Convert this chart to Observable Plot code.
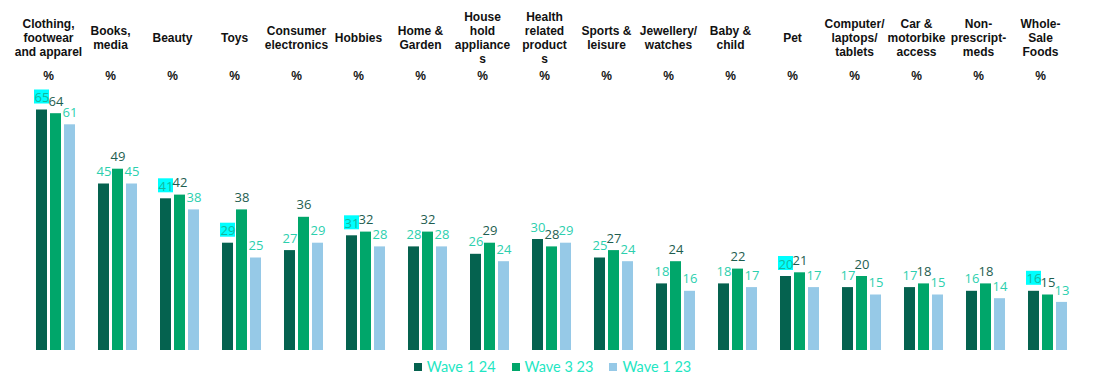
<!DOCTYPE html>
<html>
<head>
<meta charset="utf-8">
<script src="https://cdn.jsdelivr.net/npm/d3@7"></script>
<script src="https://cdn.jsdelivr.net/npm/@observablehq/plot@0.6"></script>
<style>
  html, body { margin: 0; padding: 0; background: #fff; }
  #chart { width: 1095px; height: 382px; position: relative; }
  #legend { display: flex; justify-content: center; margin-left: 26px; margin-top: -6px; }
  #legend span { margin-right: 16px !important; }
  #legend span > svg { margin-right: 5px !important; }
</style>
</head>
<body>
<div id="chart"></div>
<script>
const categories = [
  "Clothing,\nfootwear\nand apparel", "Books,\nmedia", "Beauty", "Toys", "Consumer\nelectronics",
  "Hobbies", "Home &\nGarden", "House\nhold\nappliance\ns", "Health\nrelated\nproduct\ns",
  "Sports &\nleisure", "Jewellery/\nwatches", "Baby &\nchild", "Pet", "Computer/\nlaptops/\ntablets",
  "Car &\nmotorbike\naccess", "Non-\nprescript-\nmeds", "Whole-\nSale\nFoods"
];
const seriesNames = ["Wave 1 24", "Wave 3 23", "Wave 1 23"];
const wave1_24 = [65, 45, 41, 29, 27, 31, 28, 26, 30, 25, 18, 18, 20, 17, 17, 16, 16];
const wave3_23 = [64, 49, 42, 38, 36, 32, 32, 29, 28, 27, 24, 22, 21, 20, 18, 18, 15];
const wave1_23 = [61, 45, 38, 25, 29, 28, 28, 24, 29, 24, 16, 17, 17, 15, 15, 14, 13];
// categories whose Wave 1 24 label is highlighted in the reference
const highlighted = [true, false, true, true, false, true, false, false, false, false, false, false, true, false, false, false, true];
const barColors = ["#05624f", "#00a66a", "#96c9e7"];
const labelColors = ["#2ccfae", "#1e5e50", "#2ccfae"];
const highlightFill = "#00ffff";
const highlightText = "#13b89e";

const seriesValues = [wave1_24, wave3_23, wave1_23];
const data = [];
categories.forEach((c, i) => {
  seriesNames.forEach((s, j) => {
    const hl = j === 0 && highlighted[i];
    data.push({category: c, series: s, value: seriesValues[j][i], hl, lc: hl ? highlightText : labelColors[j]});
  });
});

const plot = Plot.plot({
  width: 1095,
  height: 356,
  marginTop: 91,
  marginBottom: 6,
  marginLeft: 24,
  marginRight: 17,
  style: {background: "transparent", overflow: "visible"},
  fx: {domain: categories, paddingInner: 0, paddingOuter: 0, axis: null},
  x: {domain: seriesNames, paddingInner: 3 / 14, paddingOuter: 0.82, axis: null},
  y: {domain: [0, 70], axis: null},
  color: {domain: seriesNames, range: barColors},
  marks: [
    Plot.barY(data, {fx: "category", x: "series", y: "value", fill: "series"}),
    Plot.barY(data.filter(d => d.hl), {
      fx: "category", x: "series", y1: "value", y2: "value",
      fill: highlightFill, insetTop: -20, insetBottom: 6, insetLeft: -2, insetRight: -2
    }),
    Plot.text(data, {
      fx: "category", x: "series", y: "value", text: d => String(d.value),
      fill: d => d.lc, dy: -12, lineAnchor: "middle",
      fontFamily: "'Open Sans', 'Noto Sans', sans-serif", fontSize: 13
    }),
    Plot.text(categories, {
      fx: d => d, text: d => d, frameAnchor: "top", dx: -7, dy: -54, lineAnchor: "middle",
      lineHeight: 14 / 12, fontFamily: "'Liberation Sans', Arial, sans-serif",
      fontWeight: "bold", fontSize: 12, fill: "#111"
    }),
    Plot.text(categories, {
      fx: d => d, text: () => "%", frameAnchor: "top", dx: -7, dy: -15, lineAnchor: "middle",
      fontFamily: "'Liberation Sans', Arial, sans-serif", fontWeight: "bold", fontSize: 12, fill: "#111"
    })
  ]
});

const chart = document.getElementById("chart");
chart.appendChild(plot);

const legend = Plot.legend({
  color: {domain: seriesNames, range: barColors},
  legend: "swatches",
  swatchSize: 8,
  style: {fontFamily: "'Lato', 'Open Sans', sans-serif", fontSize: "14.5px", color: "#1fe6c3", background: "transparent"}
});
const lw = document.createElement("div");
lw.id = "legend";
lw.appendChild(legend);
chart.appendChild(lw);
</script>
</body>
</html>
